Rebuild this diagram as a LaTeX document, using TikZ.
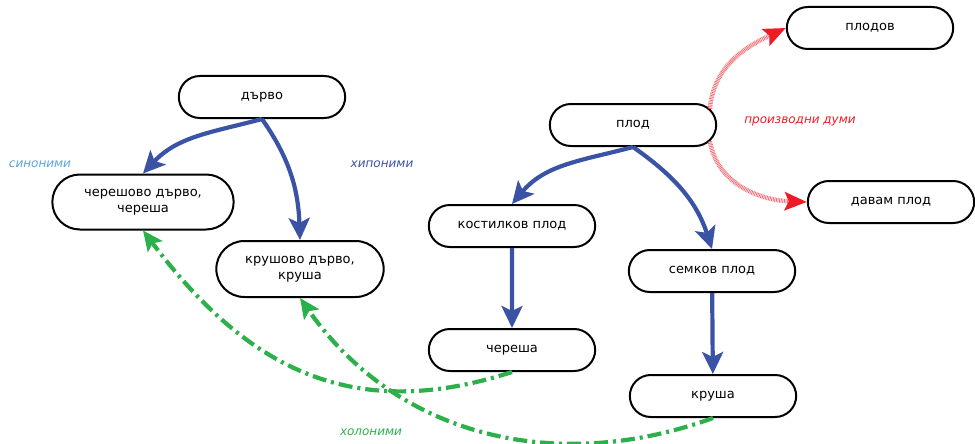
\documentclass[tikz,border=0pt]{standalone}
\usepackage{fontspec}
\setmainfont{DejaVu Sans}
\usetikzlibrary{arrows.meta,shapes.misc}

\definecolor{hypblue}{RGB}{58,83,164}
\definecolor{synblue}{RGB}{91,163,220}
\definecolor{holgreen}{RGB}{44,176,76}
\definecolor{derred}{RGB}{237,28,36}

\begin{document}
\begin{tikzpicture}[x=1pt,y=1pt,>={Stealth[length=22pt,width=21pt,inset=5pt]},
                    term/.style={rounded rectangle,draw,line width=2pt,minimum width=173pt,
                                 minimum height=42pt,align=center,font=\fontsize{13}{15.5}\selectfont},
                    hyp/.style={->,hypblue,line width=4.2pt},
                    hol/.style={-{Stealth[length=20pt,width=18pt,inset=4pt]},holgreen,line width=4.2pt,
                                dash pattern=on 14pt off 5pt on 3pt off 5pt},
                    der/.style={-{Stealth[length=22pt,width=18pt,inset=4pt,color=derred]},derred!65,
                                line width=4.5pt,dash pattern=on 0.8pt off 0.8pt},
                    lbl/.style={font=\itshape\fontsize{12}{14}\selectfont}]

  \useasboundingbox (0,0) rectangle (975,-444);

  \node[term] (tree)       at (262,-97)  {дърво};
  \node[term,minimum width=188pt,minimum height=55pt] (cherrytree) at (143,-202) {черешово дърво,\\череша};
  \node[term,minimum width=174pt,minimum height=56pt] (peartree)   at (300,-269) {крушово дърво,\\круша};

  \node[term] (fruit)      at (633,-125) {плод};
  \node[term] (fruits)     at (870,-28)  {плодов};
  \node[term] (bear)       at (891,-202) {давам плод};
  \node[term] (stone)      at (512,-226) {костилков плод};
  \node[term] (pome)       at (712,-271) {семков плод};
  \node[term] (cherry)     at (512,-350) {череша};
  \node[term] (pear)       at (713,-396) {круша};

  \path[hyp] (tree.south) edge[out=195,in=47] (cherrytree.north);
  \path[hyp] (tree.south) edge[out=-55,in=92] (peartree.north);
  \path[hyp] (fruit.south) edge[out=195,in=50] (stone.north);
  \path[hyp] (fruit.south) edge[out=-35,in=108] (pome.north);
  \path[hyp] (stone) edge (cherry);
  \path[hyp] (pome) edge (pear);

  \path[der] (fruit.12) edge[out=85,in=205] (fruits.west);
  \path[der] (fruit.-12) edge[out=-80,in=178] (bear.west);

  \path[hol] (cherry.south) edge[out=198,in=-53,looseness=1.1] (cherrytree.south);
  \path[hol] (pear.south) edge[out=200,in=-55] (peartree.south);

  \node[lbl,synblue]  (syn)  at (40,-164)  {синоними};
  \node[lbl,hypblue]  (hyp)  at (382,-164) {хипоними};
  \node[lbl,derred]   (der)  at (800,-121) {производни думи};
  \node[lbl,holgreen] (hol)  at (371,-432) {холоними};

\end{tikzpicture}
\end{document}
